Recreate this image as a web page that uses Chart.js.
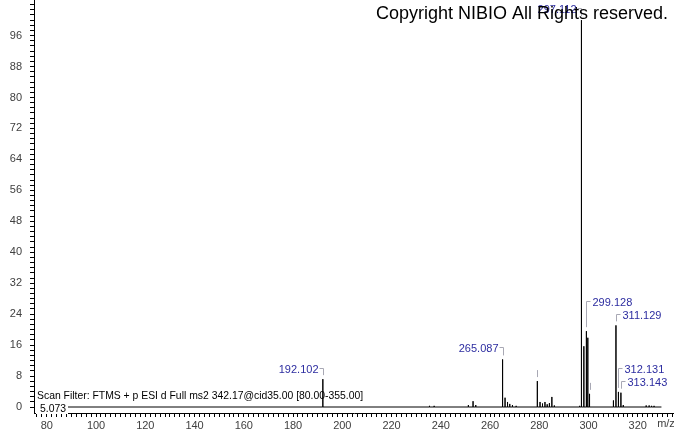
<!DOCTYPE html>
<html>
<head>
<meta charset="utf-8">
<script src="https://cdn.jsdelivr.net/npm/chart.js@4/dist/chart.umd.min.js"></script>
<style>
  html, body { margin:0; padding:0; background:#fff; }
  #wrap { width:674px; height:434px; position:relative; }
</style>
</head>
<body>
<div id="wrap"><canvas id="spec"></canvas></div>
<script>
// donnees du spectre (m/z, intensite relative %)
const peakMz  = [192.102, 235.4, 237.3, 251.2, 253.1, 254.2,
                 265.087, 266.09, 267.1, 268.0, 269.1, 270.6,
                 279.2, 280.3, 281.3, 282.3, 283.2, 284.1, 285.1, 286.1,
                 296.4, 297.112, 298.1, 299.128, 299.7, 300.4,
                 310.1, 311.129, 312.131, 313.143, 314.1,
                 323.4, 324.6, 325.6, 326.6];
const peakInt = [7.2, 0.3, 0.3, 0.5, 1.5, 0.5,
                 12.3, 2.4, 1.3, 0.8, 0.5, 0.3,
                 6.7, 1.3, 0.9, 1.3, 0.7, 1.0, 2.6, 0.4,
                 0.3, 100, 15.7, 19.6, 17.9, 3.4,
                 1.7, 21.1, 3.9, 3.7, 0.5,
                 0.4, 0.4, 0.3, 0.3];
const traceStart = 76, traceEnd = 329.6;

// pics annotes
const labelMz   = [192.102, 265.087, 297.112, 299.128, 311.129, 312.131, 313.143];
const stubMz    = [279.2, 300.4];

// axes
const xMin = 74.8, xMax = 334.7, xTickStep = 2, xLabelStep = 20, xLabelMax = 320;
const yMin = -1.55, yMax = 105.2, yTickStep = 8/6, yLabelStep = 8, yLabelMax = 96;

const scanFilter = 'Scan Filter: FTMS + p ESI d Full ms2 342.17@cid35.00 [80.00-355.00]';
const rtText = '5.073';
const copyright = 'Copyright NIBIO All Rights reserved.';
const xUnit = 'm/z';

// mise en page des etiquettes (pas des donnees)
const labelSide = ['L','L','L','R','R','R','R'];
const labelLift = [11, 12, 12, 30, 11, 24, 12];

const FONT = "'Liberation Sans', Arial, sans-serif";
const near = (a, b) => Math.abs(a - b) < 1e-6;

// trace : chaque pic = baton vertical depuis 0
const pts = [{x: traceStart, y: 0}];
peakMz.forEach((m, i) => { pts.push({x:m, y:0}, {x:m, y:peakInt[i]}, {x:m, y:0}); });
pts.push({x: traceEnd, y: 0});

function intensityAt(m){
  const i = peakMz.findIndex(v => near(v, m));
  return i >= 0 ? peakInt[i] : 0;
}

const overlay = {
  id: 'overlay',
  beforeDatasetsDraw(chart){
    const ctx = chart.ctx, ca = chart.chartArea;
    ctx.save();
    ctx.fillStyle = '#000';
    ctx.font = '10.4px ' + FONT;
    ctx.textBaseline = 'middle';
    ctx.textAlign = 'left';
    ctx.fillText(scanFilter, ca.left + 3, 396);
    ctx.restore();
  },
  afterDatasetsDraw(chart){
    const ctx = chart.ctx, xs = chart.scales.x, ys = chart.scales.y;
    ctx.save();
    // retention time box
    ctx.font = '10.4px ' + FONT;
    ctx.fillStyle = '#fff';
    const w = ctx.measureText(rtText).width;
    ctx.fillRect(36, 403, w + 6, 11);
    ctx.fillStyle = '#000';
    ctx.textBaseline = 'middle';
    ctx.fillText(rtText, 40, 409);

    // stubs sans texte
    ctx.strokeStyle = '#a8a8b4';
    ctx.lineWidth = 1;
    stubMz.forEach(m => {
      const bx = Math.round(xs.getPixelForValue(m)) + 0.5;
      const ty = ys.getPixelForValue(intensityAt(m));
      ctx.beginPath(); ctx.moveTo(bx, ty - 11); ctx.lineTo(bx, ty - 4); ctx.stroke();
    });

    // etiquettes des pics
    ctx.font = '11px ' + FONT;
    labelMz.forEach((m, i) => {
      const bx = Math.round(xs.getPixelForValue(m)) + 0.5;
      const ty = ys.getPixelForValue(intensityAt(m));
      const yy = Math.round(ty - labelLift[i]) + 0.5;
      ctx.strokeStyle = '#a8a8b4';
      ctx.beginPath();
      if (labelSide[i] === 'L'){
        ctx.moveTo(bx - 4, yy); ctx.lineTo(bx, yy); ctx.lineTo(bx, ty - 4);
      } else {
        ctx.moveTo(bx + 4, yy); ctx.lineTo(bx, yy); ctx.lineTo(bx, ty - 4);
      }
      ctx.stroke();
      ctx.fillStyle = '#2c2ca0';
      ctx.textBaseline = 'middle';
      ctx.textAlign = labelSide[i] === 'L' ? 'right' : 'left';
      ctx.fillText(m.toFixed(3), labelSide[i] === 'L' ? bx - 5 : bx + 6, yy + 1);
    });

    // copyright
    ctx.fillStyle = '#000';
    ctx.font = '18px ' + FONT;
    ctx.textAlign = 'right';
    ctx.textBaseline = 'middle';
    ctx.fillText(copyright, 668, 14);

    // unite
    ctx.fillStyle = '#404040';
    ctx.font = '11px ' + FONT;
    ctx.textAlign = 'center';
    ctx.fillText(xUnit, 666, 424);
    ctx.restore();
  }
};

function stepTicks(min, max, step){
  const out = [];
  for (let k = Math.ceil(min/step - 1e-9); k*step <= max + 1e-9; k++) out.push({value: k*step});
  return out;
}

new Chart(document.getElementById('spec'), {
  type: 'scatter',
  data: { datasets: [{ data: pts, showLine: true, borderColor: '#000', borderWidth: 1,
                       pointRadius: 0, tension: 0, fill: false }] },
  options: {
    responsive: true, maintainAspectRatio: false, animation: false,
    layout: { padding: 0 },
    plugins: { legend: { display: false }, tooltip: { enabled: false } },
    scales: {
      x: {
        type: 'linear', min: xMin, max: xMax,
        afterBuildTicks: s => { s.ticks = stepTicks(xMin, xMax, xTickStep); },
        afterFit: s => { s.height = 21; s.paddingLeft = 0; s.paddingRight = 0; },
        border: { color: '#000', width: 1 },
        grid: { drawOnChartArea: false, drawTicks: true, tickLength: 4, tickColor: '#000' },
        ticks: {
          autoSkip: false, maxRotation: 0, padding: 2, color: '#404040',
          font: { family: FONT, size: 11 },
          callback: v => (near(v % xLabelStep, 0) && v <= xLabelMax) ? String(v) : ''
        }
      },
      y: {
        type: 'linear', min: yMin, max: yMax,
        afterBuildTicks: s => { s.ticks = stepTicks(0, yMax, yTickStep); },
        afterFit: s => { s.width = 34; s.paddingTop = 0; s.paddingBottom = 0; },
        border: { color: '#000', width: 1 },
        grid: { drawOnChartArea: false, drawTicks: true, tickLength: 4, tickColor: '#000' },
        ticks: {
          autoSkip: false, padding: 8, color: '#404040',
          font: { family: FONT, size: 11 },
          callback: v => { const r = Math.round(v); return (near(v, r) && r % yLabelStep === 0 && r <= yLabelMax) ? String(r) : ''; }
        }
      }
    }
  },
  plugins: [overlay]
});
</script>
</body>
</html>
